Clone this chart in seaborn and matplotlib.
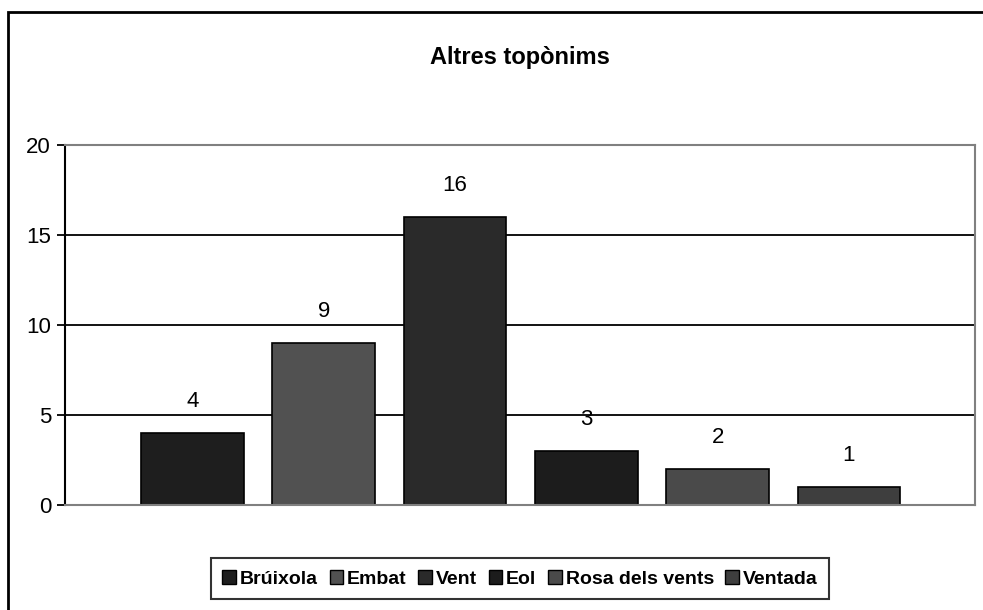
import pandas as pd
import matplotlib
matplotlib.use("Agg")
import matplotlib.pyplot as plt
import seaborn as sns
from matplotlib.patches import Rectangle

categories = ["Brúixola", "Embat", "Vent", "Eol", "Rosa dels vents", "Ventada"]
values = [4, 9, 16, 3, 2, 1]
colors = ["#1e1e1e", "#515151", "#2a2a2a", "#1c1c1c", "#4a4a4a", "#3e3e3e"]
yticks = [0, 5, 10, 15, 20]

df = pd.DataFrame({"nom": categories, "n": values})

sns.set_style("white")
plt.rcParams["font.family"] = ["Liberation Sans", "DejaVu Sans"]
plt.rcParams["text.color"] = "black"
plt.rcParams["ytick.color"] = "black"

fig = plt.figure(figsize=(9.83, 6.10), dpi=100)
ax = fig.add_axes([0.0661, 0.1721, 0.9258, 0.5902])

sns.barplot(data=df, x="nom", y="n", hue="nom", palette=colors, dodge=False,
            width=0.78, edgecolor="black", linewidth=1.2, legend=False, ax=ax)

# etiquetes de valor sobre cada barra
for i, v in enumerate(values):
    ax.annotate(str(v), (i, v), xytext=(0, 23), textcoords="offset points",
                ha="center", va="center", fontsize=16, color="black")

ax.set_xlim(-0.97, 5.96)
ax.set_ylim(0, 20)
ax.set_yticks(yticks)
ax.set_yticklabels([str(t) for t in yticks], fontsize=16, color="black")
ax.set_xticks([])
ax.set_xlabel("")
ax.set_ylabel("")
for y in yticks[1:-1]:
    ax.axhline(y, color="black", lw=1.3, zorder=0)

ax.spines["left"].set_color("black")
ax.spines["left"].set_linewidth(1.5)
for s in ["top", "right", "bottom"]:
    ax.spines[s].set_color("#808080")
    ax.spines[s].set_linewidth(1.5)
ax.tick_params(axis="y", direction="out", length=6, width=1.3, color="black", pad=4, left=True)

ax.set_title("Altres topònims", fontsize=17, fontweight="bold", y=1.0, pad=58, color="black")

handles = [Rectangle((0, 0), 1, 1, facecolor=c, edgecolor="black", lw=1) for c in colors]
leg = fig.legend(handles, categories, loc="center", bbox_to_anchor=(0.529, 0.051), ncol=6,
                 frameon=True, fancybox=False, edgecolor="black", handlelength=0.7,
                 handleheight=0.7, handletextpad=0.2, columnspacing=0.6,
                 prop={"weight": "bold", "size": 14}, borderpad=0.6, labelcolor="black")
leg.get_frame().set_linewidth(1.5)

# marc exterior del gràfic
fig.patches.append(Rectangle((8 / 983, -0.1), 1.2, (610 - 12) / 610 + 0.1,
                             transform=fig.transFigure, fill=False,
                             edgecolor="black", lw=2))

plt.savefig("out.png", dpi=100)
